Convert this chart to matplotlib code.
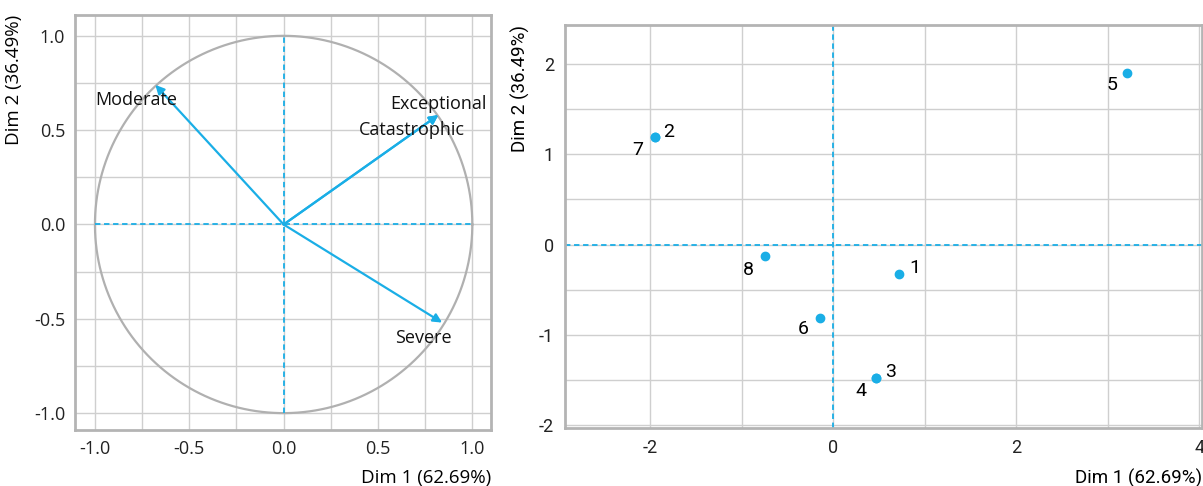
import matplotlib
matplotlib.use('Agg')
import matplotlib.pyplot as plt
import numpy as np

# variables factor map
var_names = ['Moderate', 'Exceptional', 'Catastrophic', 'Severe']
var_x = [-0.68, 0.82, 0.82, 0.84]
var_y = [0.74, 0.58, 0.58, -0.52]
var_lab_x = [-0.78, 0.82, 0.68, 0.74]
var_lab_y = [0.66, 0.64, 0.50, -0.60]

# individuals map
ind_names = ['1', '2', '3', '4', '5', '6', '7', '8']
ind_x = [0.72, -1.95, 0.47, 0.47, 3.21, -0.14, -1.95, -0.74]
ind_y = [-0.32, 1.19, -1.48, -1.48, 1.90, -0.81, 1.19, -0.13]
ind_off = [(11, 4), (10, 4), (10, 5), (-11, -9), (-11, -9), (-12, -8), (-12, -9), (-12, -10)]

xlab = 'Dim 1 (62.69%)'
ylab = 'Dim 2 (36.49%)'

blue = '#1aaee6'
grid_c = '#cfcfcf'
frame_c = '#b4b4b4'

plt.rcParams['font.family'] = ['Open Sans', 'DejaVu Sans']
plt.rcParams['font.size'] = 13
plt.rcParams['axes.unicode_minus'] = False

fig = plt.figure(figsize=(12.03, 4.86), dpi=100)

# ---- left: correlation circle
ax1 = fig.add_axes([0.0623, 0.115, 0.346, 0.854])
ax1.set_xlim(-1.106, 1.1)
ax1.set_ylim(-1.09, 1.11)
ticks = np.arange(-1.0, 1.01, 0.5)
ax1.set_xticks(ticks)
ax1.set_yticks(ticks)
ax1.set_xticklabels(['%.1f' % t for t in ticks])
ax1.set_yticklabels(['%.1f' % t for t in ticks])
ax1.set_xticks(np.arange(-1.0, 1.01, 0.25), minor=True)
ax1.set_yticks(np.arange(-1.0, 1.01, 0.25), minor=True)
ax1.grid(True, which='both', color=grid_c, lw=1)
ax1.set_axisbelow(True)
ax1.tick_params(which='both', length=0, pad=7, labelsize=13, colors='#222222')
for s in ax1.spines.values():
    s.set_color(frame_c)
    s.set_linewidth(2)

th = np.linspace(0, 2 * np.pi, 400)
ax1.plot(np.cos(th), np.sin(th), color='#b0b0b0', lw=1.6)
ax1.plot([-1, 1], [0, 0], color=blue, ls=(0, (3, 2)), lw=1.3)
ax1.plot([0, 0], [-1, 1], color=blue, ls=(0, (3, 2)), lw=1.3)

for name, x, y, lx, ly in zip(var_names, var_x, var_y, var_lab_x, var_lab_y):
    ax1.annotate('', xy=(x, y), xytext=(0, 0),
                 arrowprops=dict(arrowstyle='-|>', color=blue, lw=1.6,
                                 mutation_scale=13, shrinkA=0, shrinkB=0))
    ax1.text(lx, ly, name, ha='center', va='center', fontsize=13, color='#111111')

ax1.set_xlabel(xlab, loc='right', fontsize=13.5, labelpad=8)
ax1.set_ylabel(ylab, loc='top', fontsize=13.5, labelpad=8)

# ---- right: individuals
rf = ['Roboto', 'DejaVu Sans']
ax2 = fig.add_axes([0.4697, 0.119, 0.5295, 0.8296])
ax2.set_xlim(-2.93, 4.03)
ax2.set_ylim(-2.03, 2.43)
ax2.set_xticks([-2, 0, 2, 4])
ax2.set_yticks([-2, -1, 0, 1, 2])
ax2.set_xticks(np.arange(-2, 4.1, 1), minor=True)
ax2.set_yticks(np.arange(-2, 2.1, 0.5), minor=True)
ax2.grid(True, which='both', color=grid_c, lw=1)
ax2.set_axisbelow(True)
ax2.tick_params(which='both', length=0, pad=8, labelsize=13, colors='#222222')
for lab in ax2.get_xticklabels() + ax2.get_yticklabels():
    lab.set_family(rf)
for s in ax2.spines.values():
    s.set_color(frame_c)
    s.set_linewidth(2)

ax2.axhline(0, color=blue, ls=(0, (3, 2)), lw=1.3)
ax2.axvline(0, color=blue, ls=(0, (3, 2)), lw=1.3)
ax2.plot(ind_x, ind_y, 'o', color=blue, ms=6, zorder=3)
for name, x, y, off in zip(ind_names, ind_x, ind_y, ind_off):
    ax2.annotate(name, (x, y), xytext=off, textcoords='offset points',
                 ha='center', va='center', fontsize=14, family=rf)

ax2.set_xlabel(xlab, loc='right', fontsize=13.5, labelpad=8, family=rf)
ax2.set_ylabel(ylab, loc='top', fontsize=13.5, labelpad=6, family=rf)

fig.savefig('out.png', dpi=100)
